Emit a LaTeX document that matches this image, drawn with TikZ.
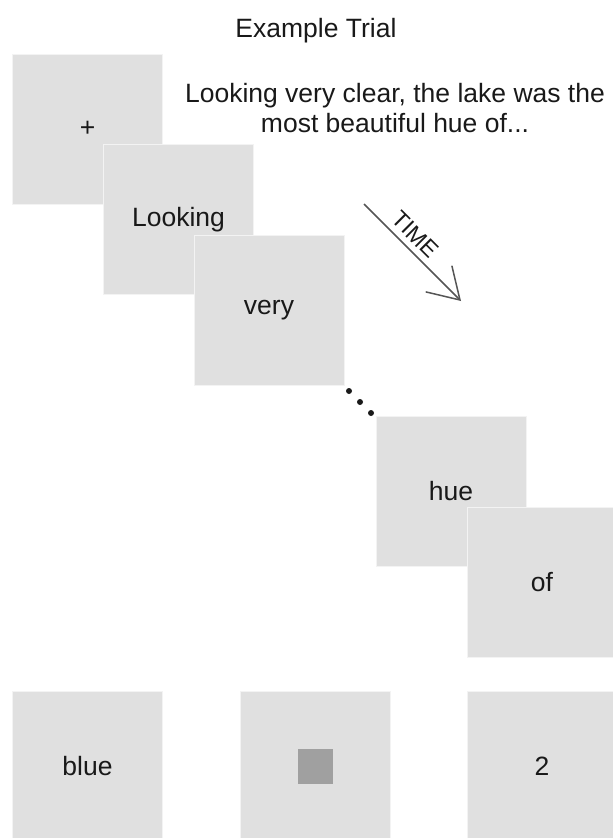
\documentclass[tikz,border=0pt]{standalone}
\usepackage{fontspec}
\setmainfont{Liberation Sans}
\usepackage{tikz}
\usetikzlibrary{arrows.meta}

\definecolor{boxgray}{RGB}{224,224,224}
\definecolor{darkbox}{RGB}{160,160,160}
\definecolor{inkgray}{RGB}{85,85,85}
\definecolor{textblack}{RGB}{25,25,25}

\tikzset{
  trialbox/.style={rectangle, fill=boxgray, draw=white!60!boxgray, line width=0.8pt,
    minimum width=150pt, minimum height=150pt, inner sep=0pt,
    text=textblack, font=\fontsize{26.5}{30}\selectfont},
  bigtext/.style={text=textblack, font=\fontsize{26.5}{30}\selectfont, align=center},
  timearrow/.style={draw=inkgray, line width=1.5pt,
    -{Straight Barb[length=30pt, width=37pt]}}
}

\begin{document}
\begin{tikzpicture}[x=1pt, y=-1pt]
				\useasboundingbox (0,0) rectangle (613,838);
				\node[bigtext] (title) at (316,31) {Example Trial};
				\node[bigtext] (sentence) at (395,108) {Looking very clear, the lake was the\\most beautiful hue of...};
				% word sequence
				\node[trialbox] (plus) at (87.5,129) {+};
				\node[trialbox] (looking) at (178.5,219.5) {Looking};
				\node[trialbox] (very) at (269,310) {very};
				\fill[textblack] (349,391) circle (3pt);
				\fill[textblack] (360,402) circle (3pt);
				\fill[textblack] (371,413) circle (3pt);
				\node[trialbox] (hue) at (451,491.5) {hue};
				\node[trialbox] (of) at (542,582) {of};
				% time arrow
				\coordinate (T0) at (364,204);
				\coordinate (T1) at (461,301);
				\draw[timearrow] (T0) -- node[pos=0.42, sloped, above=5pt, inner sep=1pt, text=textblack, font=\fontsize{23}{26}\selectfont] (time) {TIME} (T1);
				% response screens
				\node[trialbox] (blue) at (87.5,766) {blue};
				\node[trialbox] (mask) at (315,766) {};
				\fill[darkbox] (297.5,748.5) rectangle (332.5,783.5);
				\node[trialbox] (two) at (542,766) {2};
			\end{tikzpicture}
\end{document}
